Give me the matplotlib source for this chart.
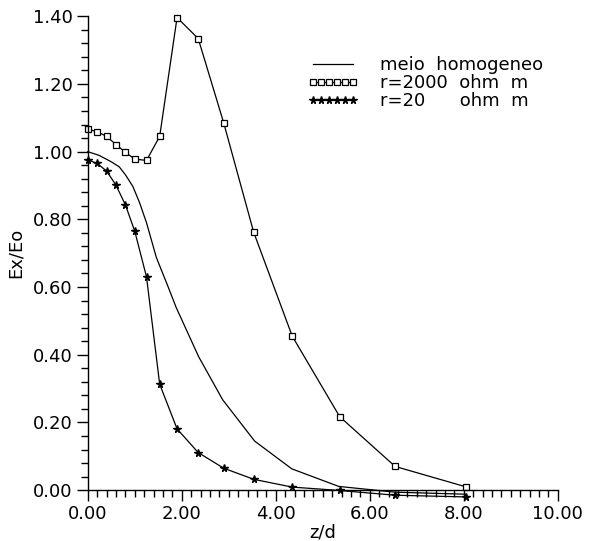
import numpy as np
import matplotlib.pyplot as plt
from matplotlib.ticker import MultipleLocator, FormatStrFormatter

# z/d positions of the two model curves (markers)
z = [0.0, 0.2, 0.4, 0.6, 0.8, 1.0, 1.25, 1.53, 1.9, 2.35, 2.89,
     3.53, 4.35, 5.36, 6.54, 8.04]

# Ex/Eo values
r2000 = [1.066, 1.059, 1.045, 1.021, 0.998, 0.978, 0.974, 1.045, 1.396,
         1.334, 1.086, 0.762, 0.455, 0.217, 0.070, 0.010]
r20 = [0.976, 0.965, 0.943, 0.901, 0.843, 0.765, 0.630, 0.313, 0.181,
       0.111, 0.065, 0.032, 0.009, -0.001, -0.015, -0.020]

# homogeneous medium curve, traced separately (no markers)
z_homog = [0.0, 0.24, 0.5, 0.67, 0.8, 0.96, 1.1, 1.25, 1.46, 1.70, 1.88,
           2.36, 2.87, 3.55, 4.34, 5.34, 6.54, 8.04]
homog = [1.000, 0.989, 0.970, 0.955, 0.932, 0.897, 0.850, 0.790, 0.687,
         0.604, 0.540, 0.394, 0.267, 0.145, 0.063, 0.011, -0.006, -0.012]

labels = ["meio  homogeneo", "r=2000  ohm  m", "r=20      ohm  m"]

plt.rcParams['font.family'] = 'DejaVu Sans'

fig = plt.figure(figsize=(5.89, 5.41), dpi=100)
ax = fig.add_axes([0.149, 0.094, 0.798, 0.876])

lw = 0.9
ax.plot(z_homog, homog, color='black', lw=lw, label=labels[0], clip_on=False)
ax.plot(z, r2000, color='black', lw=lw, marker='s', ms=4.5,
        mfc='white', mec='black', mew=0.9, label=labels[1], clip_on=False)
ax.plot(z, r20, color='black', lw=lw, marker='*', ms=5.5,
        mfc='black', mec='black', label=labels[2], clip_on=False)

ax.set_xlim(0, 10)
ax.set_ylim(0, 1.4)

for s in ['top', 'right']:
    ax.spines[s].set_visible(False)
for s in ['left', 'bottom']:
    ax.spines[s].set_linewidth(1.0)

ax.xaxis.set_major_locator(MultipleLocator(2))
ax.xaxis.set_minor_locator(MultipleLocator(0.2))
ax.yaxis.set_major_locator(MultipleLocator(0.2))
ax.yaxis.set_minor_locator(MultipleLocator(0.04))
ax.xaxis.set_major_formatter(FormatStrFormatter('%.2f'))
ax.yaxis.set_major_formatter(FormatStrFormatter('%.2f'))

ax.tick_params(axis='both', which='major', labelsize=13, width=1.0, length=8, pad=3)
ax.tick_params(axis='both', which='minor', width=1.0, length=5)

ax.set_xlabel('z/d', fontsize=13, labelpad=0)
ax.set_ylabel('Ex/Eo', fontsize=13, labelpad=6)

ax.legend(loc='upper left', bbox_to_anchor=(0.468, 0.916), frameon=False,
          fontsize=13, numpoints=6, handlelength=2.8, handletextpad=1.2,
          labelspacing=0.0, borderpad=0, borderaxespad=0)

fig.savefig('out.png', dpi=100)
